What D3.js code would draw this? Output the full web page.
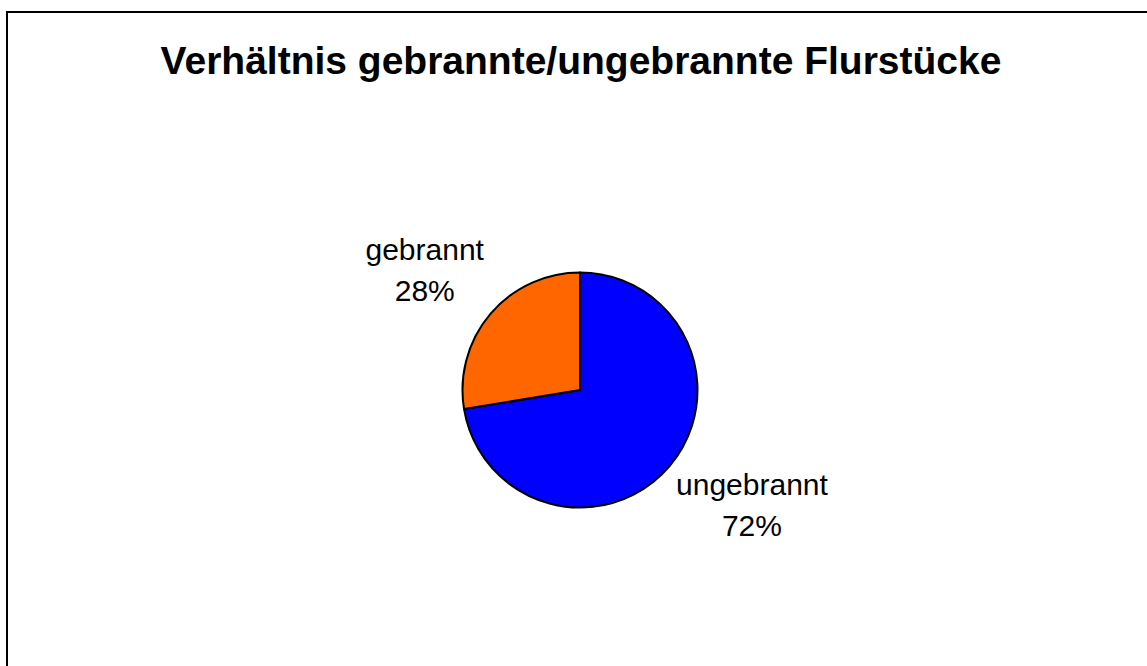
<!DOCTYPE html>
<meta charset='utf-8'>
<html>

<head>
    <title>Verhältnis gebrannte/ungebrannte Flurstücke</title>
    <script src="https://cdn.jsdelivr.net/npm/d3@7"></script>
    <style>
        body {
            padding: 0;
            margin: 0;
            background: #fff;
        }

        svg text {
            font-family: "Liberation Sans", Arial, sans-serif;
            fill: #000;
        }
    </style>
</head>

<body>
    <svg id="chart" width="1147" height="666"></svg>

    <script>
        // data
        var title = "Verhältnis gebrannte/ungebrannte Flurstücke";
        var categories = ["ungebrannt", "gebrannt"];
        var values = [72.4, 27.6];
        var colors = ["#0000FF", "#FF6600"];

        var width = 1147, height = 666;
        var svg = d3.select("#chart");

        // outer frame (right/bottom edges run off the picture)
        svg.append("rect")
            .attr("x", 7)
            .attr("y", 12)
            .attr("width", width + 10)
            .attr("height", height + 10)
            .attr("fill", "none")
            .attr("stroke", "#000")
            .attr("stroke-width", 2);

        svg.append("text")
            .attr("x", 581)
            .attr("y", 74)
            .attr("text-anchor", "middle")
            .style("font-size", "39px")
            .style("font-weight", "bold")
            .text(title);

        var cx = 580, cy = 390, r = 117.5;

        var pie = d3.pie()
            .sort(null)
            .value(function (d) { return d; });
        var arcs = pie(values);
        var arc = d3.arc().innerRadius(0).outerRadius(r);

        var g = svg.append("g").attr("transform", "translate(" + cx + "," + cy + ")");

        g.selectAll("path")
            .data(arcs)
            .enter()
            .append("path")
            .attr("d", arc)
            .attr("fill", function (d, i) { return colors[i]; })
            .attr("stroke", "#000")
            .attr("stroke-width", 2)
            .attr("stroke-linejoin", "round");

        // labels: box corner nearest the pie sits on the mid-angle ray
        var labelR = 126, boxH = 71;
        arcs.forEach(function (d, i) {
            var a = (d.startAngle + d.endAngle) / 2;
            var px = Math.sin(a) * labelR, py = -Math.cos(a) * labelR;
            var t = g.append("text")
                .attr("text-anchor", "middle")
                .style("font-size", "30px");
            var l1 = t.append("tspan").text(categories[i]);
            var l2 = t.append("tspan").text(Math.round(d.value / d3.sum(values) * 100) + "%");
            var w = Math.max(l1.node().getComputedTextLength(), l2.node().getComputedTextLength());
            var left = px < 0 ? px - w : px;
            var top = py < 0 ? py - boxH : py;
            l1.attr("x", left + w / 2).attr("y", top + 23);
            l2.attr("x", left + w / 2).attr("y", top + 64);
        });
    </script>
</body>

</html>
